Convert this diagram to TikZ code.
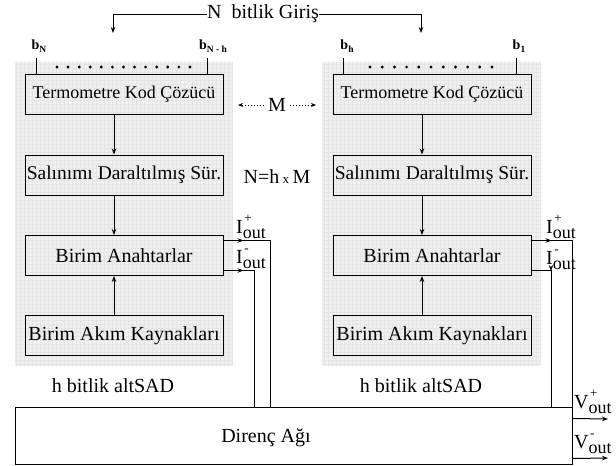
\documentclass[tikz,border=0pt]{standalone}
\usepackage{fontspec}
\setmainfont{Liberation Serif}
\usetikzlibrary{arrows.meta,decorations.markings,calc}
\newcommand{\fs}[1]{\fontsize{#1}{#1}\selectfont}
\newcommand{\sublab}[3]{#1\rlap{\raisebox{11pt}{\fs{13}\kern1.5pt#2}}\raisebox{-5pt}{\fs{18}#3}}
\begin{document}
\begin{tikzpicture}[x=1pt,y=-1pt,
  blk/.style={draw,line width=1pt,minimum width=198pt,minimum height=40pt,inner sep=0pt},
  wire/.style={line width=1pt},
  arr/.style={line width=1pt,-{Stealth[length=6pt,width=4.5pt]}},
  midarr/.style={line width=1pt,postaction={decorate},
    decoration={markings,mark=at position 20pt with {\arrow{Stealth[length=6pt,width=4.5pt]}}}},
  dotarr/.style={line width=1pt,dotted,-{Stealth[length=5pt,width=4pt]}},
  bg/.style={fill=black!6},
  txt/.style={inner sep=0pt},
  blab/.style={inner sep=0pt,font=\bfseries\fs{14}}]
\useasboundingbox (0,0) rectangle (616,466);
% backgrounds
\foreach \xa/\xb in {15/233,322/541}{
  \fill[bg] (\xa,62) rectangle (\xb,366);
  \begin{scope}
    \clip (\xa,62) rectangle (\xb,366);
    \draw[black!10,line width=0.3pt] (\xa,62) grid[step=4pt] (\xb,366);
  \end{scope}
}
% top input
\node[txt,font=\fs{20}] (in) at (263,14) {N\hspace{0.5em}bitlik Giriş};
\coordinate (inL) at (113,33);
\coordinate (inR) at (421,33);
\draw[arr] (in.west) -| (inL);
\draw[arr] (in.east) -| (inR);
% left column
\node[blk,font=\fs{18}] (t1) at (124,94.5) {Termometre Kod Çözücü};
\node[blk,font=\fs{19.5}] (s1) at (124,175) {Salınımı Daraltılmış Sür.};
\node[blk,font=\fs{20}] (a1) at (124,255.5) {Birim Anahtarlar};
\node[blk,font=\fs{20}] (k1) at (124,335.5) {Birim Akım Kaynakları};
% right column
\node[blk,font=\fs{18}] (t2) at (432,94.5) {Termometre Kod Çözücü};
\node[blk,font=\fs{19.5}] (s2) at (432,175) {Salınımı Daraltılmış Sür.};
\node[blk,font=\fs{20}] (a2) at (432,255.5) {Birim Anahtarlar};
\node[blk,font=\fs{20}] (k2) at (432,335.5) {Birim Akım Kaynakları};
% vertical arrows
\foreach \c in {1,2}{
  \draw[arr] ([xshift=-10pt]t\c.south) -- ([xshift=-10pt]s\c.north);
  \draw[arr] ([xshift=-10pt]s\c.south) -- ([xshift=-10pt]a\c.north);
  \draw[arr] ([xshift=-10pt]k\c.north) -- ([xshift=-10pt]a\c.south);
}
% bit labels and lines
\node[blab] (bN) at (39,46) {b\raisebox{-3.5pt}{\fs{9.5}N}};
\node[blab] (bNh) at (213,46) {b\raisebox{-3.5pt}{\fs{9.5}N - h}};
\node[blab] (bh) at (347,46) {b\raisebox{-3.5pt}{\fs{9.5}h}};
\node[blab] (b1) at (519,46) {b\raisebox{-3.5pt}{\fs{9.5}1}};
\foreach \n/\x in {bN/36,bNh/207,bh/343,b1/516}{
  \coordinate (c\n) at (\x,58);
  \draw[wire] (c\n) -- (c\n |- t1.north);
}
\foreach \i in {0,...,12}{\fill (57+\i*11.08,67) circle (1.6pt);}
\foreach \i in {0,...,10}{\fill (370+\i*12.2,67) circle (1.6pt);}
% middle labels
\node[txt,font=\fs{20}] (M) at (277,105) {M};
\coordinate (ml) at (238,105);
\coordinate (mr) at (316,105);
\draw[dotarr] ([xshift=-4pt]M.west) -- (ml);
\draw[dotarr] ([xshift=4pt]M.east) -- (mr);
\node[txt,font=\fs{20}] (eq) at (277,177) {N=h\,{\fs{13}x}\,M};
% sub-DAC labels
\node[txt,font=\fs{20}] (l1) at (113,386) {h bitlik altSAD};
\node[txt,font=\fs{20}] (l2) at (421,386) {h bitlik altSAD};
% resistor network
\node[draw,line width=1pt,minimum width=557pt,minimum height=57pt,inner sep=0pt] (d) at (293.5,435.5) {};
\node[txt,font=\fs{20}] (dt) at (266,438) {Direnç Ağı};
% output wires
\coordinate (w1p) at (270,0);
\coordinate (w1m) at (254,0);
\coordinate (w2m) at (551,0);
\draw[midarr] ([yshift=-5.5pt]a1.north east) -| (d.north -| w1p);
\draw[midarr] ([yshift=5.5pt]a1.south east) -| (d.north -| w1m);
\draw[midarr] ([yshift=-5.5pt]a2.north east) -| (d.north east);
\draw[midarr] ([yshift=5.5pt]a2.south east) -| (d.north -| w2m);
% current labels
\node[txt,anchor=base west,font=\fs{20}] (ip1) at (236,233) {\sublab{I}{+}{out}};
\node[txt,anchor=base west,font=\fs{20}] (im1) at (236,263) {\sublab{I}{-}{out}};
\node[txt,anchor=base west,font=\fs{20}] (ip2) at (546,233) {\sublab{I}{+}{out}};
\node[txt,anchor=base west,font=\fs{20}] (im2) at (546,264) {\sublab{I}{-}{out}};
% voltage outputs
\coordinate (vo1) at (608,419);
\coordinate (vo2) at (608,458);
\draw[arr] ([yshift=-12pt]d.north east) -- (vo1);
\draw[arr] ([yshift=6pt]d.south east) -- (vo2);
\node[txt,anchor=base west,font=\fs{20}] (vp) at (574,408) {\sublab{V}{+}{out}};
\node[txt,anchor=base west,font=\fs{20}] (vm) at (574,448) {\sublab{V}{-}{out}};
\end{tikzpicture}
\end{document}
